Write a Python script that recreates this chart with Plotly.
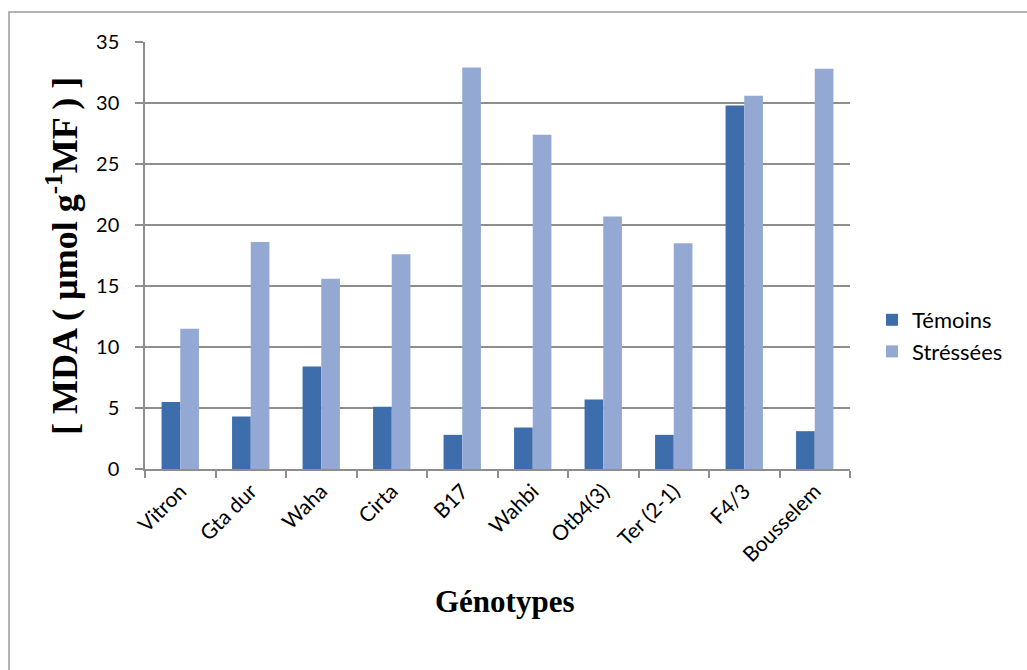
import plotly.graph_objects as go

# Genotypes and MDA content (µmol g-1 MF)
genotypes = ["Vitron", "Gta dur", "Waha", "Cirta", "B17", "Wahbi",
             "Otb4(3)", "Ter (2-1)", "F4/3", "Bousselem"]
temoins = [5.5, 4.3, 8.4, 5.1, 2.8, 3.4, 5.7, 2.8, 29.8, 3.1]
stressees = [11.5, 18.6, 15.6, 17.6, 32.9, 27.4, 20.7, 18.5, 30.6, 32.8]
y_ticks = [0, 5, 10, 15, 20, 25, 30, 35]

dark_blue = "#3d6dab"
light_blue = "#93a9d4"
grid_grey = "#8e8e8e"

fig = go.Figure()
fig.add_trace(go.Bar(x=genotypes, y=temoins, name="Témoins",
                     marker=dict(color=dark_blue, line=dict(width=0)),
                     legendgroup="a"))
fig.add_trace(go.Bar(x=genotypes, y=stressees, name="Stréssées",
                     marker=dict(color=light_blue, line=dict(width=0)),
                     legendgroup="b"))

L, R, T, B = 145, 177, 42, 201
W, H = 1027, 670
pw = W - L - R
ph = H - T - B

fig.update_layout(
    width=W, height=H,
    margin=dict(l=L, r=R, t=T, b=B),
    paper_bgcolor="white",
    plot_bgcolor="white",
    barmode="group",
    bargap=0.47,
    bargroupgap=0.0,
    font=dict(family="Lato, 'Open Sans', sans-serif", size=20, color="#000000"),
    showlegend=True,
    legend=dict(
        x=(872 - L) / pw, xanchor="left",
        y=(H - B - 336) / ph, yanchor="middle",
        font=dict(size=22, color="#000000"),
        tracegroupgap=3,
        traceorder="normal",
        bgcolor="rgba(0,0,0,0)",
    ),
    xaxis=dict(
        type="category",
        tickangle=-45,
        showline=True, linecolor=grid_grey, linewidth=1.5,
        ticks="outside", tickson="boundaries", ticklen=7,
        tickcolor=grid_grey, tickwidth=1.5,
        showgrid=False,
        tickfont=dict(size=21),
    ),
    yaxis=dict(
        range=[0, 35],
        tickvals=y_ticks,
        showline=True, linecolor=grid_grey, linewidth=1.5,
        ticks="outside", ticklen=8, tickcolor=grid_grey, tickwidth=1.5,
        ticklabelstandoff=12,
        showgrid=True, gridcolor=grid_grey, gridwidth=1.5,
        zeroline=False,
        tickfont=dict(size=20),
    ),
    annotations=[
        dict(
            text="<b>[ MDA ( µmol g<sup>-1</sup>MF ) ]</b>",
            xref="paper", yref="paper",
            x=(62 - L) / pw, y=(H - B - 256) / ph,
            xanchor="center", yanchor="middle",
            textangle=-90, showarrow=False,
            font=dict(family="'Liberation Serif', 'DejaVu Serif', serif",
                      size=36, color="#000000"),
        ),
        dict(
            text="<b>Génotypes</b>",
            xref="paper", yref="paper",
            x=(505 - L) / pw, y=-(601 - (H - B)) / ph,
            xanchor="center", yanchor="middle",
            showarrow=False,
            font=dict(family="'Liberation Serif', 'DejaVu Serif', serif",
                      size=31, color="#000000"),
        ),
    ],
    shapes=[
        # outer chart frame
        dict(type="rect", xref="paper", yref="paper",
             x0=(9 - L) / pw, x1=(W + 20 - L) / pw,
             y0=-(H + 20 - (H - B)) / ph, y1=(H - B - 12) / ph,
             line=dict(color="#9a9a9a", width=1.5),
             fillcolor="rgba(0,0,0,0)", layer="below"),
    ],
)

fig.write_html("out.html")
